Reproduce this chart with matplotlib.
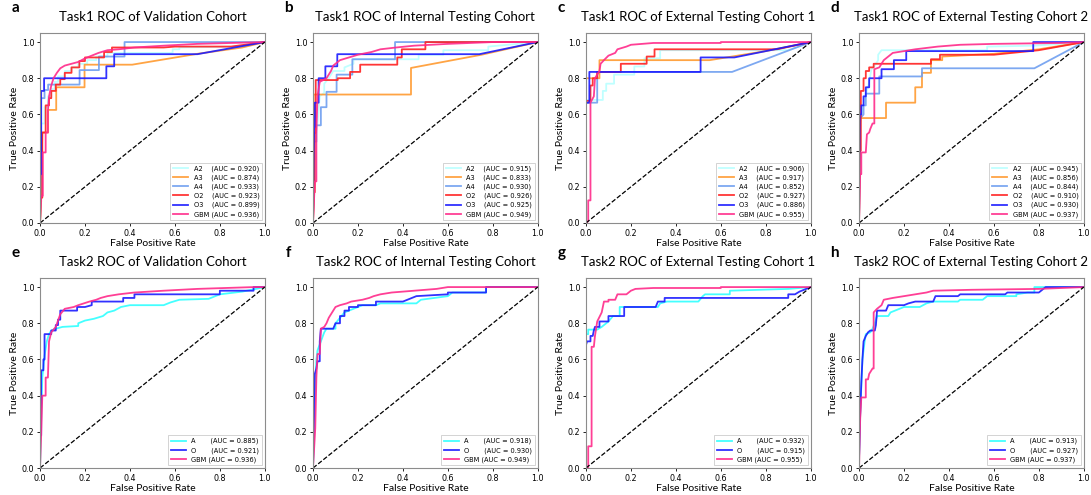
import numpy as np
from matplotlib import pyplot as plt

# ---- legend text ----
T1_NAMES = ["A2    ", "A3    ", "A4    ", "O2    ", "O3    ", "GBM "]
T2_NAMES = ["A       ", "O       ", "GBM "]
T1_COLORS = ["#b8ffff", "#ff9a30", "#6f9ff0", "#ff2020", "#1a1aff", "#ff2a8a"]
T2_COLORS = ["#30ffff", "#1a1aff", "#ff2a8a"]

AUC_A = [0.920, 0.874, 0.933, 0.923, 0.899, 0.936]
AUC_B = [0.915, 0.833, 0.930, 0.926, 0.925, 0.949]
AUC_C = [0.906, 0.917, 0.852, 0.927, 0.886, 0.955]
AUC_D = [0.945, 0.856, 0.844, 0.910, 0.930, 0.937]
AUC_E = [0.885, 0.921, 0.936]
AUC_F = [0.918, 0.930, 0.949]
AUC_G = [0.932, 0.915, 0.955]
AUC_H = [0.913, 0.927, 0.937]

# ---- ROC curves, (fpr, tpr) vertices ----
# a: Task1 validation
a_A2 = [(0, 0), (0.005, 0.3), (0.005, 0.55), (0.02, 0.55), (0.02, 0.64), (0.035, 0.64), (0.035, 0.7),
        (0.05, 0.7), (0.05, 0.74), (0.065, 0.74), (0.065, 0.78), (0.08, 0.78), (0.08, 0.81), (0.11, 0.81),
        (0.11, 0.84), (0.14, 0.84), (0.14, 0.86), (0.17, 0.86), (0.17, 0.88), (0.21, 0.88), (0.21, 0.9),
        (0.25, 0.9), (0.25, 0.92), (0.3, 0.92), (0.3, 0.94), (0.59, 0.94), (0.59, 0.96), (0.62, 0.96),
        (0.62, 0.97), (0.9, 0.975), (1, 1)]
a_A3 = [(0, 0), (0.005, 0.12), (0.01, 0.5), (0.036, 0.5), (0.036, 0.625), (0.072, 0.625), (0.072, 0.75),
        (0.198, 0.75), (0.198, 0.875), (0.41, 0.875), (0.7, 0.935), (0.9, 0.97), (1, 1)]
a_A4 = [(0, 0), (0.005, 0.3), (0.005, 0.69), (0.02, 0.69), (0.02, 0.735), (0.036, 0.735), (0.036, 0.765),
        (0.176, 0.765), (0.176, 0.845), (0.262, 0.845), (0.262, 0.92), (0.376, 0.92), (0.376, 1.0), (1, 1)]
a_O2 = [(0, 0), (0.003, 0.14), (0.01, 0.14), (0.01, 0.5), (0.025, 0.5), (0.025, 0.65), (0.04, 0.65),
        (0.04, 0.69), (0.05, 0.69), (0.05, 0.73), (0.07, 0.73), (0.07, 0.765), (0.09, 0.765), (0.09, 0.795),
        (0.11, 0.795), (0.11, 0.83), (0.14, 0.83), (0.14, 0.86), (0.175, 0.86), (0.175, 0.895), (0.2, 0.895),
        (0.2, 0.915), (0.285, 0.915), (0.285, 0.945), (0.32, 0.945), (0.32, 0.97), (0.55, 0.97),
        (0.6, 0.975), (0.85, 0.975), (1, 1)]
a_O3 = [(0, 0), (0, 0.27), (0.005, 0.27), (0.005, 0.73), (0.018, 0.73), (0.018, 0.8), (0.295, 0.8),
        (0.295, 0.866), (0.33, 0.866), (0.33, 0.933), (0.7, 0.933), (1, 1)]
a_GBM = [(0, 0), (0.005, 0.15), (0.012, 0.15), (0.012, 0.39), (0.025, 0.39), (0.025, 0.5), (0.035, 0.5),
         (0.035, 0.62), (0.04, 0.7), (0.05, 0.76), (0.06, 0.8), (0.075, 0.83), (0.09, 0.855), (0.11, 0.87),
         (0.14, 0.88), (0.17, 0.89), (0.2, 0.91), (0.23, 0.925), (0.26, 0.94), (0.3, 0.955), (0.35, 0.96),
         (0.42, 0.97), (0.55, 0.98), (0.7, 0.99), (1, 1)]

# b: Task1 internal testing
b_A2 = [(0, 0), (0.005, 0.5), (0.02, 0.55), (0.03, 0.7), (0.05, 0.72), (0.05, 0.77), (0.07, 0.8),
        (0.09, 0.84), (0.14, 0.84), (0.14, 0.86), (0.18, 0.88), (0.18, 0.905), (0.47, 0.905), (0.47, 0.93),
        (0.58, 0.93), (0.58, 0.955), (0.78, 0.955), (0.78, 0.975), (1, 1)]
b_A3 = [(0, 0), (0.003, 0.71), (0.436, 0.71), (0.436, 0.857), (0.75, 0.93), (1, 1)]
b_A4 = [(0, 0), (0.005, 0.45), (0.015, 0.45), (0.015, 0.54), (0.035, 0.54), (0.035, 0.64), (0.06, 0.64),
        (0.06, 0.725), (0.105, 0.725), (0.105, 0.82), (0.175, 0.82), (0.175, 0.905), (0.365, 0.905),
        (0.365, 1.0), (1, 1)]
b_O2 = [(0, 0), (0.005, 0.17), (0.008, 0.17), (0.008, 0.5), (0.012, 0.5), (0.012, 0.79), (0.11, 0.79),
        (0.11, 0.8), (0.165, 0.8), (0.165, 0.835), (0.21, 0.835), (0.21, 0.875), (0.375, 0.875),
        (0.375, 0.915), (0.395, 0.915), (0.395, 0.96), (0.5, 0.96), (0.5, 1.0), (1, 1)]
b_O3 = [(0, 0), (0.003, 0.4), (0.005, 0.53), (0.008, 0.53), (0.008, 0.665), (0.025, 0.665), (0.025, 0.8),
        (0.055, 0.8), (0.055, 0.866), (0.108, 0.866), (0.108, 0.933), (0.74, 0.933), (1, 1)]
b_GBM = [(0, 0), (0.008, 0.23), (0.015, 0.23), (0.015, 0.5), (0.02, 0.7), (0.03, 0.78), (0.06, 0.8),
         (0.08, 0.84), (0.09, 0.87), (0.12, 0.9), (0.16, 0.915), (0.2, 0.93), (0.26, 0.945), (0.3, 0.96),
         (0.37, 0.97), (0.45, 0.98), (0.6, 0.99), (0.8, 1.0), (1, 1)]

# c: Task1 external testing 1
c_A2 = [(0, 0), (0, 0.68), (0.075, 0.68), (0.075, 0.73), (0.09, 0.73), (0.09, 0.77), (0.125, 0.77),
        (0.125, 0.82), (0.215, 0.82), (0.215, 0.865), (0.26, 0.865), (0.26, 0.91), (0.33, 0.91),
        (0.33, 0.955), (0.9, 0.955), (1, 1)]
c_A3 = [(0, 0), (0, 0.8), (0.06, 0.8), (0.06, 0.9), (0.55, 0.9), (0.8, 0.95), (1, 1)]
c_A4 = [(0, 0), (0, 0.665), (0.05, 0.665), (0.05, 0.835), (0.65, 0.835), (1, 1)]
c_O2 = [(0, 0), (0, 0.675), (0.02, 0.675), (0.02, 0.76), (0.03, 0.76), (0.03, 0.8), (0.05, 0.8),
        (0.05, 0.835), (0.155, 0.835), (0.155, 0.88), (0.27, 0.88), (0.27, 0.92), (0.305, 0.92),
        (0.305, 0.96), (0.85, 0.96), (1, 1)]
c_O3 = [(0, 0), (0, 0.665), (0.015, 0.665), (0.015, 0.835), (0.51, 0.835), (0.51, 0.915), (0.66, 0.915),
        (1, 1)]
c_GBM = [(0, 0), (0.01, 0.01), (0.01, 0.125), (0.02, 0.125), (0.02, 0.665), (0.035, 0.7), (0.04, 0.8),
         (0.06, 0.84), (0.065, 0.88), (0.08, 0.9), (0.1, 0.925), (0.13, 0.94), (0.14, 0.96), (0.18, 0.975),
         (0.2, 0.985), (0.3, 0.995), (0.6, 0.995), (0.6, 1.0), (1, 1)]

# d: Task1 external testing 2
d_A2 = [(0, 0), (0.005, 0.55), (0.015, 0.62), (0.03, 0.71), (0.045, 0.78), (0.055, 0.85), (0.07, 0.87),
        (0.085, 0.9), (0.085, 0.93), (0.1, 0.955), (0.57, 0.955), (0.57, 0.975), (0.78, 0.98), (1, 1)]
d_A3 = [(0, 0), (0.005, 0.58), (0.12, 0.58), (0.12, 0.665), (0.25, 0.665), (0.25, 0.75), (0.28, 0.75),
        (0.28, 0.83), (0.32, 0.83), (0.32, 0.9), (0.37, 0.9), (0.37, 0.92), (0.6, 0.935), (0.8, 0.96),
        (1, 1)]
d_A4 = [(0, 0), (0, 0.57), (0.02, 0.6), (0.02, 0.65), (0.03, 0.65), (0.03, 0.715), (0.09, 0.715),
        (0.09, 0.81), (0.28, 0.81), (0.28, 0.855), (0.78, 0.855), (1, 1)]
d_O2 = [(0, 0), (0.003, 0.4), (0.008, 0.4), (0.008, 0.73), (0.02, 0.73), (0.02, 0.8), (0.03, 0.8),
        (0.03, 0.84), (0.045, 0.84), (0.045, 0.86), (0.065, 0.86), (0.065, 0.88), (0.32, 0.88),
        (0.32, 0.905), (0.36, 0.905), (0.36, 0.93), (0.6, 0.93), (0.8, 0.955), (1, 1)]
d_O3 = [(0, 0), (0.003, 0.6), (0.01, 0.6), (0.01, 0.65), (0.02, 0.65), (0.02, 0.7), (0.03, 0.7),
        (0.03, 0.75), (0.045, 0.75), (0.045, 0.8), (0.1, 0.8), (0.1, 0.85), (0.155, 0.85), (0.155, 0.9),
        (0.21, 0.9), (0.21, 0.95), (0.775, 0.95), (0.775, 1.0), (1, 1)]
d_GBM = [(0, 0), (0.005, 0.27), (0.01, 0.27), (0.01, 0.39), (0.03, 0.39), (0.035, 0.49), (0.045, 0.5),
         (0.05, 0.52), (0.06, 0.55), (0.068, 0.55), (0.068, 0.85), (0.09, 0.86), (0.11, 0.9), (0.13, 0.92),
         (0.15, 0.94), (0.2, 0.95), (0.25, 0.96), (0.35, 0.975), (0.45, 0.985), (0.6, 0.99),
         (0.9, 0.995), (1, 1)]

# e: Task2 validation
e_A = [(0, 0), (0.005, 0.27), (0.01, 0.5), (0.02, 0.62), (0.03, 0.7), (0.04, 0.74), (0.05, 0.76),
       (0.07, 0.77), (0.1, 0.78), (0.17, 0.785), (0.17, 0.8), (0.2, 0.815), (0.24, 0.825), (0.28, 0.84),
       (0.3, 0.86), (0.33, 0.87), (0.36, 0.89), (0.4, 0.9), (0.55, 0.9), (0.58, 0.915), (0.62, 0.93),
       (0.75, 0.935), (0.8, 0.96), (0.9, 0.975), (1, 1)]
e_O = [(0, 0), (0, 0.18), (0.005, 0.18), (0.005, 0.54), (0.015, 0.54), (0.015, 0.6), (0.02, 0.6),
       (0.02, 0.74), (0.05, 0.74), (0.05, 0.76), (0.07, 0.76), (0.07, 0.79), (0.08, 0.79), (0.08, 0.82),
       (0.09, 0.82), (0.09, 0.87), (0.165, 0.87), (0.165, 0.89), (0.2, 0.89), (0.23, 0.9), (0.23, 0.92),
       (0.37, 0.92), (0.37, 0.94), (0.42, 0.94), (0.42, 0.96), (0.8, 0.96), (0.8, 0.98), (0.95, 0.98),
       (0.95, 1.0), (1, 1)]
e_GBM = [(0, 0), (0.005, 0.18), (0.01, 0.4), (0.025, 0.4), (0.025, 0.5), (0.035, 0.5), (0.04, 0.7),
         (0.05, 0.75), (0.07, 0.78), (0.09, 0.85), (0.11, 0.88), (0.15, 0.89), (0.17, 0.9), (0.22, 0.92),
         (0.25, 0.93), (0.27, 0.94), (0.3, 0.95), (0.35, 0.96), (0.42, 0.97), (0.55, 0.98), (0.7, 0.99),
         (0.95, 1.0), (1, 1)]

# f: Task2 internal testing
f_A = [(0, 0), (0.003, 0.35), (0.01, 0.45), (0.015, 0.6), (0.02, 0.65), (0.035, 0.7), (0.05, 0.75),
       (0.06, 0.77), (0.1, 0.77), (0.1, 0.8), (0.12, 0.83), (0.14, 0.86), (0.18, 0.88), (0.22, 0.9),
       (0.28, 0.9), (0.3, 0.91), (0.46, 0.91), (0.48, 0.93), (0.6, 0.95), (0.62, 0.97), (0.77, 0.97),
       (0.77, 1.0), (1, 1)]
f_O = [(0, 0), (0.003, 0.15), (0.008, 0.52), (0.015, 0.55), (0.02, 0.59), (0.03, 0.59), (0.03, 0.7),
       (0.035, 0.77), (0.09, 0.77), (0.1, 0.8), (0.12, 0.8), (0.12, 0.84), (0.14, 0.84), (0.14, 0.87),
       (0.16, 0.87), (0.16, 0.89), (0.2, 0.89), (0.2, 0.9), (0.28, 0.9), (0.28, 0.92), (0.4, 0.92),
       (0.46, 0.95), (0.6, 0.96), (0.6, 0.97), (0.77, 0.97), (0.77, 1.0), (1, 1)]
f_GBM = [(0, 0), (0.01, 0.22), (0.015, 0.5), (0.02, 0.63), (0.03, 0.63), (0.035, 0.77), (0.05, 0.78),
         (0.06, 0.8), (0.07, 0.83), (0.08, 0.85), (0.1, 0.89), (0.12, 0.9), (0.15, 0.91), (0.17, 0.92),
         (0.22, 0.93), (0.25, 0.94), (0.27, 0.95), (0.3, 0.96), (0.35, 0.97), (0.45, 0.98), (0.55, 0.99),
         (0.6, 1.0), (1, 1)]

# g: Task2 external testing 1
g_A = [(0, 0), (0, 0.74), (0.01, 0.74), (0.01, 0.765), (0.05, 0.765), (0.07, 0.78), (0.09, 0.8),
       (0.1, 0.81), (0.12, 0.84), (0.15, 0.84), (0.15, 0.89), (0.32, 0.89), (0.33, 0.91), (0.36, 0.92),
       (0.5, 0.92), (0.52, 0.95), (0.53, 0.96), (0.64, 0.96), (0.64, 0.98), (0.9, 0.99), (1, 1)]
g_O = [(0, 0), (0, 0.68), (0.005, 0.7), (0.02, 0.7), (0.02, 0.73), (0.03, 0.73), (0.035, 0.76),
       (0.04, 0.78), (0.06, 0.78), (0.06, 0.81), (0.1, 0.81), (0.1, 0.84), (0.17, 0.84), (0.17, 0.89),
       (0.31, 0.89), (0.32, 0.92), (0.35, 0.92), (0.35, 0.94), (0.9, 0.94), (0.9, 0.96), (0.93, 0.96),
       (0.95, 0.975), (1, 1)]
g_GBM = [(0, 0), (0.01, 0), (0.01, 0.12), (0.025, 0.12), (0.025, 0.67), (0.035, 0.67), (0.04, 0.73),
         (0.05, 0.81), (0.07, 0.86), (0.08, 0.92), (0.1, 0.92), (0.1, 0.93), (0.13, 0.93), (0.14, 0.96),
         (0.18, 0.96), (0.2, 0.98), (0.22, 0.99), (0.3, 0.995), (0.6, 0.995), (0.6, 1.0), (1, 1)]

# h: Task2 external testing 2
h_A = [(0, 0), (0, 0.05), (0.005, 0.3), (0.01, 0.45), (0.015, 0.6), (0.025, 0.7), (0.03, 0.74),
       (0.05, 0.75), (0.06, 0.77), (0.07, 0.8), (0.08, 0.84), (0.13, 0.84), (0.14, 0.86), (0.16, 0.87),
       (0.18, 0.88), (0.2, 0.89), (0.27, 0.89), (0.3, 0.91), (0.33, 0.92), (0.44, 0.92), (0.45, 0.93),
       (0.55, 0.93), (0.57, 0.95), (0.7, 0.95), (0.7, 0.96), (0.75, 0.97), (0.78, 0.97), (0.78, 1.0),
       (1, 1)]
h_O = [(0, 0), (0, 0.06), (0.005, 0.3), (0.01, 0.47), (0.015, 0.6), (0.02, 0.7), (0.03, 0.73),
       (0.04, 0.75), (0.05, 0.76), (0.07, 0.76), (0.075, 0.79), (0.08, 0.87), (0.12, 0.87), (0.13, 0.9),
       (0.2, 0.9), (0.22, 0.91), (0.25, 0.92), (0.33, 0.92), (0.34, 0.95), (0.44, 0.95), (0.45, 0.96),
       (0.65, 0.96), (0.66, 0.97), (0.8, 0.97), (0.81, 0.98), (0.83, 1.0), (1, 1)]
h_GBM = [(0, 0), (0.005, 0.27), (0.01, 0.39), (0.03, 0.39), (0.03, 0.49), (0.04, 0.49), (0.045, 0.52),
         (0.06, 0.55), (0.065, 0.55), (0.065, 0.86), (0.08, 0.88), (0.1, 0.9), (0.11, 0.93), (0.15, 0.94),
         (0.2, 0.95), (0.25, 0.96), (0.3, 0.97), (0.33, 0.98), (0.5, 0.985), (0.8, 0.99), (1, 1)]

PANELS = [
    ("a", "Task1 ROC of Validation Cohort", [a_A2, a_A3, a_A4, a_O2, a_O3, a_GBM], AUC_A, True),
    ("b", "Task1 ROC of Internal Testing Cohort", [b_A2, b_A3, b_A4, b_O2, b_O3, b_GBM], AUC_B, True),
    ("c", "Task1 ROC of External Testing Cohort 1", [c_A2, c_A3, c_A4, c_O2, c_O3, c_GBM], AUC_C, True),
    ("d", "Task1 ROC of External Testing Cohort 2", [d_A2, d_A3, d_A4, d_O2, d_O3, d_GBM], AUC_D, True),
    ("e", "Task2 ROC of Validation Cohort", [e_A, e_O, e_GBM], AUC_E, False),
    ("f", "Task2 ROC of Internal Testing Cohort", [f_A, f_O, f_GBM], AUC_F, False),
    ("g", "Task2 ROC of External Testing Cohort 1", [g_A, g_O, g_GBM], AUC_G, False),
    ("h", "Task2 ROC of External Testing Cohort 2", [h_A, h_O, h_GBM], AUC_H, False),
]

LABEL_FONT = "Lato"

fig = plt.figure(figsize=(10.91, 4.95), dpi=100)
lefts = [0.0367, 0.2869, 0.5371, 0.7874]
bottoms = [0.5495, 0.0545]
W, H = 0.2060, 0.3838

for i, (letter, title, curves, aucs, task1) in enumerate(PANELS):
    row, col = divmod(i, 4)
    ax = fig.add_axes([lefts[col], bottoms[row], W, H])
    names = T1_NAMES if task1 else T2_NAMES
    colors = T1_COLORS if task1 else T2_COLORS
    for pts, name, color, auc in zip(curves, names, colors, aucs):
        pts = np.array(pts)
        ax.plot(pts[:, 0], pts[:, 1], color=color, lw=1.3, alpha=0.9,
                label=f"{name}(AUC = {auc:.3f})")
    ax.plot([0, 1], [0, 1], "k--", lw=0.9)
    ax.set_xlim(0, 1.0)
    ax.set_ylim(0, 1.05)
    ax.set_xticks(np.arange(0, 1.01, 0.2))
    ax.set_yticks(np.arange(0, 1.01, 0.2))
    ax.tick_params(labelsize=5.8, length=2.5, width=0.6, pad=1.5)
    for s in ax.spines.values():
        s.set_color("#8c8c8c")
        s.set_linewidth(0.8)
    ax.set_xlabel("False Positive Rate", fontsize=7.5, family=LABEL_FONT, labelpad=1)
    if letter != "f":
        ax.set_ylabel("True Positive Rate", fontsize=7.5, family=LABEL_FONT, labelpad=2)
    ax.set_title(title, fontsize=9.5, family=LABEL_FONT, pad=9)
    ax.text(-0.11, 1.13, letter, transform=ax.transAxes, fontsize=11, fontweight="bold",
            family=LABEL_FONT, ha="center", va="center")
    leg = ax.legend(loc="lower right", fontsize=4.8, labelspacing=0.4, handlelength=2.3,
                    borderpad=0.4, framealpha=1, fancybox=False, borderaxespad=0.4)
    leg.get_frame().set_edgecolor("#cccccc")
    leg.get_frame().set_linewidth(0.6)

fig.savefig("out.png", dpi=100)
